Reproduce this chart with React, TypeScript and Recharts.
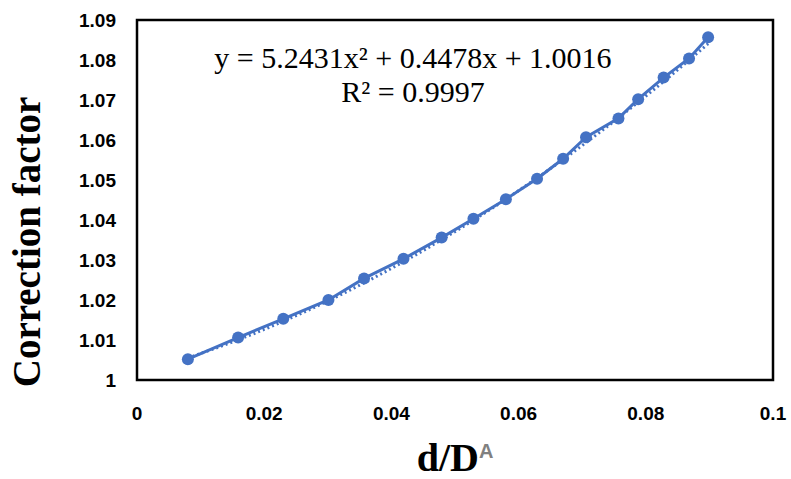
import { LineChart, Line, XAxis, YAxis, ReferenceArea } from "recharts";

const dD = [0.008, 0.0159, 0.023, 0.0301, 0.0357, 0.0419, 0.0479, 0.0529, 0.058, 0.0629, 0.067, 0.0706, 0.0757, 0.0788, 0.0828, 0.0868, 0.0898];
const correction = [1.0052, 1.0106, 1.0153, 1.02, 1.0254, 1.0303, 1.0356, 1.0403, 1.0452, 1.0503, 1.0553, 1.0607, 1.0654, 1.0702, 1.0756, 1.0804, 1.0857];
// polynomial trendline coefficients shown on the chart (a, b, c)
const trendCoef = [5.2431, 0.4478, 1.0016];
const xTicks = [0, 0.02, 0.04, 0.06, 0.08, 0.1];
const yTicks = [1, 1.01, 1.02, 1.03, 1.04, 1.05, 1.06, 1.07, 1.08, 1.09];

const BLUE = "#4472C4";
const tickStyle = { fontFamily: "'Liberation Sans', Arial, sans-serif", fontWeight: 700, fontSize: 19, fill: "#000" };

const rows = dD.map((x, i) => ({
  x,
  y: correction[i],
  fit: trendCoef[0] * x * x + trendCoef[1] * x + trendCoef[2],
}));

function YTitle(props: any) {
  const vb = props.viewBox;
  const cx = vb.x + 40;
  const cy = 242;
  return (
    <text
      x={cx}
      y={cy}
      transform={`rotate(-90, ${cx}, ${cy})`}
      textAnchor="middle"
      style={{ fontFamily: "'Liberation Serif', 'Times New Roman', serif", fontWeight: 700, fontSize: 39, fill: "#000" }}
    >
      Correction factor
    </text>
  );
}

function XTitle(props: any) {
  const vb = props.viewBox;
  return (
    <text x={vb.x + vb.width / 2} y={vb.y + 91} textAnchor="middle">
      <tspan style={{ fontFamily: "'Liberation Serif', 'Times New Roman', serif", fontWeight: 700, fontSize: 40, fill: "#000" }}>d/D</tspan>
      <tspan dy={-13} style={{ fontFamily: "'Liberation Sans', Arial, sans-serif", fontWeight: 700, fontSize: 20, fill: "#808080" }}>A</tspan>
    </text>
  );
}

export default function App() {
  return (
    <div style={{ position: "absolute", left: 0, top: 0, width: 791, height: 479, background: "#fff" }}>
      <LineChart width={791} height={479} data={rows} margin={{ top: 20, right: 18, bottom: 0, left: 0 }}>
        <XAxis
          dataKey="x"
          type="number"
          domain={[0, 0.1]}
          ticks={xTicks}
          tickFormatter={(v) => String(v)}
          height={99}
          tickLine={false}
          tickSize={0}
          tickMargin={27}
          axisLine={false}
          tick={tickStyle}
          label={<XTitle />}
        />
        <YAxis
          type="number"
          domain={[1, 1.09]}
          ticks={yTicks}
          tickFormatter={(v) => String(v)}
          width={137}
          tickLine={false}
          tickSize={0}
          tickMargin={21}
          axisLine={false}
          tick={tickStyle}
          label={<YTitle />}
        />
        <ReferenceArea x1={0} x2={0.1} y1={1} y2={1.09} fill="none" stroke="#000" strokeWidth={2.5} ifOverflow="visible" />
        <Line
          dataKey="fit"
          type="monotone"
          stroke={BLUE}
          strokeWidth={3}
          strokeDasharray="2 3"
          dot={false}
          isAnimationActive={false}
        />
        <Line
          dataKey="y"
          type="linear"
          stroke={BLUE}
          strokeWidth={3}
          dot={{ r: 6, fill: BLUE, stroke: BLUE, strokeWidth: 0 }}
          isAnimationActive={false}
        />
      </LineChart>
      <div
        style={{
          position: "absolute",
          left: 208,
          top: 41,
          width: 410,
          textAlign: "center",
          fontFamily: "'Liberation Serif', 'Times New Roman', serif",
          fontSize: 30,
          lineHeight: "34px",
          color: "#000",
        }}
      >
        <div>y = 5.2431x² + 0.4478x + 1.0016</div>
        <div>R² = 0.9997</div>
      </div>
    </div>
  );
}
